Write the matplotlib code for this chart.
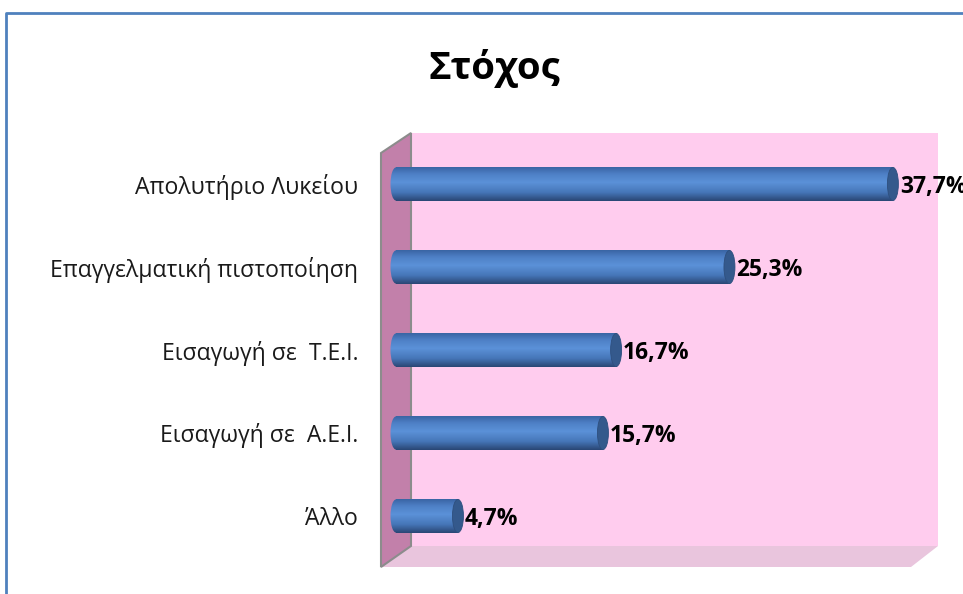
import matplotlib
matplotlib.use("Agg")
import matplotlib.pyplot as plt
import numpy as np
from matplotlib.patches import Polygon, Ellipse
from matplotlib.colors import LinearSegmentedColormap

plt.rcParams['font.family'] = ['Open Sans', 'Noto Sans', 'DejaVu Sans']

categories = ["Άλλο", "Εισαγωγή σε  Α.Ε.Ι.", "Εισαγωγή σε  Τ.Ε.Ι.",
              "Επαγγελματική πιστοποίηση", "Απολυτήριο Λυκείου"]
values = [4.7, 15.7, 16.7, 25.3, 37.7]
value_labels = ["4,7%", "15,7%", "16,7%", "25,3%", "37,7%"]
title = "Στόχος"

W, H = 963, 594
fig = plt.figure(figsize=(W / 100, H / 100), dpi=100)

def fx(px):
    return px / W

def fy(py):
    return (H - py) / H

def fpoly(pts, **kw):
    p = Polygon([(fx(x), fy(y)) for x, y in pts], closed=True,
                transform=fig.transFigure, zorder=-5, **kw)
    fig.patches.append(p)
    return p

# outer border (top, left)
fig.add_artist(plt.Line2D([fx(6), fx(6), 1.0], [0.0, fy(13), fy(13)],
                          transform=fig.transFigure, color="#4F81BD", lw=2))

# 3D walls
fpoly([(411, 133), (938, 133), (938, 546), (411, 546)], facecolor="#FFCCEE", edgecolor="none")
fpoly([(381, 567), (911, 567), (938, 546), (411, 546)], facecolor="#E9C5DD", edgecolor="none")
fpoly([(381, 153), (411, 133), (411, 546), (381, 567)], facecolor="#C280AA",
      edgecolor="#8C8C8C", lw=1.5)

# title
fig.text(fx(494), fy(68), title, ha="center", va="center",
         fontsize=27.5, fontweight="bold", color="black")

# axes for bars
left, right, top, bottom = 381, 938, 133, 567
ax = fig.add_axes([fx(left), fy(bottom), (right - left) / W, (bottom - top) / H])
ax.set_zorder(2)
ax.patch.set_alpha(0)
pxper = 13.18
xmin = -(396 - left) / pxper
xmax = xmin + (right - left) / pxper
ymin = -(bottom - 516) / 83
ymax = ymin + (bottom - top) / 83
for s in ax.spines.values():
    s.set_visible(False)
ax.set_xticks([])
ax.set_yticks(range(len(categories)))
ax.set_yticklabels(categories, fontsize=16.6, color="#1a1a1a")
ax.tick_params(axis="y", length=0, pad=(left - 358) * 0.72)

cmap = LinearSegmentedColormap.from_list(
    "cyl", [(0.0, "#2A4775"), (0.25, "#4676B8"), (0.55, "#5B91D8"),
            (0.8, "#4E80C6"), (1.0, "#3A65A4")])
grad = np.linspace(0, 1, 64).reshape(-1, 1)
bh = 0.40
cap_w = 11 / pxper
ypos = np.arange(len(categories))
bars = ax.barh(ypos, values, height=bh, color="#4F81BD", edgecolor="none", zorder=2)
for bar, v, lab in zip(bars, values, value_labels):
    y0 = bar.get_y()
    le = Ellipse((0, y0 + bh / 2), cap_w, bh, facecolor="none", edgecolor="none", zorder=2)
    ax.add_patch(le)
    for clip in (bar, le):
        im = ax.imshow(grad, cmap=cmap, aspect="auto", origin="lower",
                       extent=(-cap_w, v, y0, y0 + bh), zorder=3)
        im.set_clip_path(clip)
    ax.add_patch(Ellipse((v, y0 + bh / 2), cap_w, bh, facecolor="#34598C",
                         edgecolor="#2E4F7E", lw=0.6, zorder=4))
    ax.annotate(lab, (v, y0 + bh / 2), xytext=(5, -2), textcoords="offset points",
                ha="left", va="center", fontsize=16.5, fontweight="bold",
                color="black", annotation_clip=False, zorder=5)
ax.set_xlim(xmin, xmax)
ax.set_ylim(ymin, ymax)

fig.savefig("out.png", dpi=100)
